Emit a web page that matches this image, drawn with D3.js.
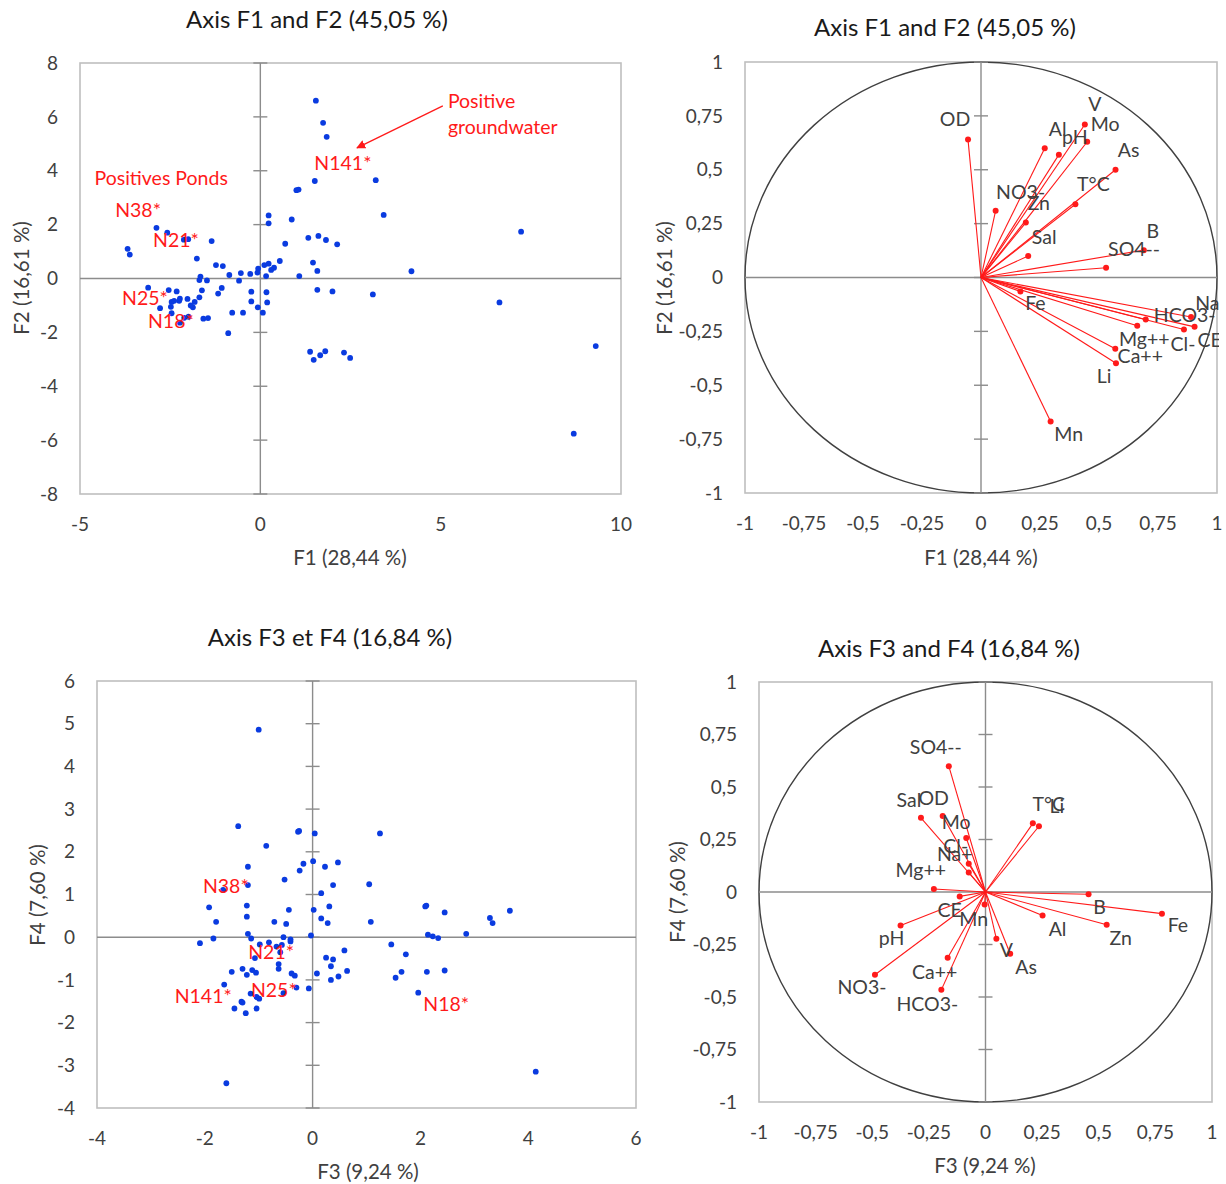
<!DOCTYPE html>
<html>
<head>
<meta charset="utf-8">
<script src="https://cdnjs.cloudflare.com/ajax/libs/d3/7.8.5/d3.min.js"></script>
<style>
  html, body { margin: 0; padding: 0; background: #fff; }
  svg { display: block; font-family: Lato, "Open Sans", sans-serif; }
</style>
</head>
<body>
<svg id="chart" width="1226" height="1184"></svg>
<script>
// ---------------- DATA ----------------
// Observations on F1/F2
const obsF1 = [1.54,1.74,1.84,1.51,1.00,1.06,0.23,0.23,0.87,0.69,1.33,1.61,1.82,2.13,1.46,1.58,1.08,1.58,2.00,
  0.54,0.38,0.30,0.23,0.11,-0.06,-0.08,0.16,-0.28,-0.54,-0.86,-0.59,-1.04,-1.23,-1.35,-1.76,-1.66,-1.69,-1.48,
  -1.62,-1.69,-1.07,-1.17,-1.82,-1.87,-1.93,-2.02,-1.99,-2.11,-2.23,-1.58,-1.45,-2.23,-2.32,-2.54,-3.11,-2.78,
  -2.46,-2.39,-2.48,-2.46,-2.25,-3.68,-3.62,-2.88,-2.58,-2.12,-2.00,-0.25,0.17,-0.25,0.19,-0.07,0.07,-0.48,-0.78,
  -0.89,1.38,1.48,1.66,1.80,2.32,2.49,3.20,3.42,7.23,4.19,3.12,6.63,9.30,8.69];
const obsF2 = [6.60,5.78,5.26,3.62,3.28,3.30,2.34,2.05,2.19,1.29,1.51,1.58,1.43,1.27,0.59,0.28,0.09,-0.42,-0.48,
  0.65,0.40,0.32,0.55,0.50,0.37,0.22,0.09,0.17,0.20,0.13,-0.08,0.46,0.50,1.39,0.74,0.07,-0.06,-0.07,
  -0.44,-0.70,-0.35,-0.56,-0.87,-1.07,-1.00,-0.76,-1.42,-1.46,-1.64,-1.49,-1.47,-0.75,-0.48,-0.43,-0.34,-1.10,
  -0.87,-0.83,-1.05,-1.29,-0.83,1.10,0.89,1.88,1.70,1.44,1.46,-0.49,-0.51,-0.85,-0.89,-1.07,-1.27,-1.27,-1.27,
  -2.03,-2.72,-3.02,-2.85,-2.70,-2.75,-2.95,3.65,2.36,1.74,0.27,-0.59,-0.89,-2.51,-5.76];
// Observations on F3/F4
const obsF3 = [-1.00,-1.38,-0.86,-0.27,-0.25,0.04,1.25,-1.20,0.01,-0.17,-0.24,0.23,0.47,-0.52,-1.20,-1.66,0.16,
  0.38,1.05,-1.92,-1.22,-1.22,-0.44,0.02,0.31,0.16,0.28,1.08,-1.79,-0.71,-0.49,-1.20,-1.14,-1.84,-2.09,-0.54,
  -0.41,-0.41,-0.03,-0.81,-0.98,-0.67,-0.57,-0.60,-1.07,-0.63,-0.63,-1.50,-1.30,-1.22,-1.12,-1.05,-0.39,-0.33,
  0.08,0.25,0.38,0.34,0.59,0.64,0.48,0.34,-0.07,-0.30,-0.54,-1.64,-1.15,-1.04,-0.99,-1.32,-1.30,-1.45,-1.24,
  -1.04,-1.60,2.09,2.11,2.45,3.29,3.34,3.66,2.14,2.23,2.33,2.85,1.46,1.73,1.65,1.54,2.12,2.45,1.96,4.14];
const obsF4 = [4.86,2.60,2.14,2.47,2.49,2.43,2.43,1.65,1.78,1.72,1.56,1.65,1.75,1.35,1.22,1.11,1.03,
  1.22,1.24,0.70,0.74,0.48,0.64,0.64,0.72,0.44,0.33,0.36,0.36,0.36,0.31,0.08,-0.03,-0.03,-0.14,0.00,
  -0.10,-0.05,0.04,-0.12,-0.17,-0.22,-0.18,-0.35,-0.49,-0.63,-0.74,-0.81,-0.74,-0.88,-0.77,-0.83,-0.85,-0.90,
  -0.85,-0.48,-0.52,-0.68,-0.31,-0.79,-0.92,-1.00,-1.20,-1.18,-1.31,-1.11,-1.32,-1.40,-1.44,-1.51,-1.53,-1.67,-1.78,
  -1.67,-3.42,0.72,0.74,0.58,0.45,0.33,0.62,0.06,0.02,-0.02,0.08,-0.17,-0.40,-0.81,-0.95,-0.81,-0.78,-1.30,-3.15];

// Variable loadings F1/F2
const vars12 = ["OD","V","Mo","Al","pH","As","T°C","NO3-","Zn","Sal","SO4--","B",
                "Fe","Mn","Li","Ca++","Mg++","HCO3-","Na+","Cl-","CE"];
const loadF1 = [-0.055,0.44,0.45,0.27,0.33,0.57,0.40,0.062,0.19,0.20,0.53,0.69,
                0.167,0.295,0.572,0.569,0.662,0.698,0.89,0.86,0.905];
const loadF2 = [0.64,0.71,0.63,0.60,0.57,0.50,0.34,0.31,0.255,0.10,0.045,0.127,
                -0.065,-0.668,-0.398,-0.331,-0.224,-0.195,-0.183,-0.241,-0.229];
// Variable loadings F3/F4
const vars34 = ["SO4--","Sal","OD","Mo","Cl-","Na+","Mg++","CE","Mn","pH","NO3-",
                "Ca++","HCO3-","V","As","Al","B","Zn","Fe","T°C","Li"];
const loadF3 = [-0.162,-0.285,-0.189,-0.085,-0.074,-0.074,-0.228,-0.114,-0.004,-0.375,-0.488,
                -0.167,-0.195,0.048,0.109,0.252,0.455,0.535,0.779,0.209,0.236];
const loadF4 = [0.599,0.353,0.362,0.257,0.134,0.093,0.014,-0.021,-0.059,-0.159,-0.394,
                -0.313,-0.466,-0.223,-0.294,-0.112,-0.011,-0.156,-0.103,0.327,0.313];

// Annotations
const notes12 = ["Positives Ponds","N38*","N21*","N25*","N18*","N141*"];
const notes12X = [-2.75,-3.39,-2.34,-3.20,-2.48,2.29];
const notes12Y = [3.74,2.55,1.43,-0.72,-1.58,4.29];
const notes34 = ["N38*","N21*","N25*","N141*","N18*"];
const notes34X = [-1.61,-0.77,-0.72,-2.03,2.48];
const notes34Y = [1.19,-0.34,-1.23,-1.37,-1.58];

// Tick values
const ticksF1 = [-5,0,5,10];
const ticksF2 = [-8,-6,-4,-2,0,2,4,6,8];
const ticksF3 = [-4,-2,0,2,4,6];
const ticksF4 = [-4,-3,-2,-1,0,1,2,3,4,5,6];
const ticksCircle = [-1,-0.75,-0.5,-0.25,0,0.25,0.5,0.75,1];

// ---------------- DRAW ----------------
const svg = d3.select("#chart");
const fmt = d => String(d).replace(".", ",");
const RED = "#ff1a1a", BLUE = "#0a3be0";

const panels = [
  {box:[80,621,63,494], xd:[-5,10], yd:[-8,8], xt:ticksF1, yt:ticksF2,
   title:"Axis F1 and F2  (45,05 %)", tpos:[317,20], xlab:"F1 (28,44 %)", xlpos:[350,558], ylab:"F2 (16,61 %)", ylpos:[22,278]},
  {box:[745,1217,62,493], xd:[-1,1], yd:[-1,1], xt:ticksCircle, yt:ticksCircle, circle:true,
   title:"Axis F1 and F2  (45,05 %)", tpos:[945,28], xlab:"F1 (28,44 %)", xlpos:[981,558], ylab:"F2 (16,61 %)", ylpos:[665,278]},
  {box:[97,636,681,1108], xd:[-4,6], yd:[-4,6], xt:ticksF3, yt:ticksF4,
   title:"Axis F3 et F4 (16,84 %)", tpos:[330,638], xlab:"F3 (9,24 %)", xlpos:[368,1172], ylab:"F4 (7,60 %)", ylpos:[38,895]},
  {box:[759,1212,682,1102], xd:[-1,1], yd:[-1,1], xt:ticksCircle, yt:ticksCircle, circle:true,
   title:"Axis F3 and F4 (16,84 %)", tpos:[949,649], xlab:"F3 (9,24 %)", xlpos:[985,1166], ylab:"F4 (7,60 %)", ylpos:[678,892]}
];

panels.forEach((p, i) => {
  const [l, r, t, b] = p.box;
  p.x = d3.scaleLinear().domain(p.xd).range([l, r]);
  p.y = d3.scaleLinear().domain(p.yd).range([b, t]);
  const g = svg.append("g");
  p.g = g;
  g.append("rect").attr("x", l).attr("y", t).attr("width", r - l).attr("height", b - t)
    .attr("fill", "none").attr("stroke", "#bfbfbf").attr("stroke-width", 1.6);
  if (p.circle) {
    g.append("ellipse").attr("cx", p.x(0)).attr("cy", p.y(0))
      .attr("rx", p.x(1) - p.x(0)).attr("ry", p.y(0) - p.y(1))
      .attr("fill", "none").attr("stroke", "#404040").attr("stroke-width", 1.4);
  }
  g.append("line").attr("x1", l).attr("x2", r).attr("y1", p.y(0)).attr("y2", p.y(0))
    .attr("stroke", "#8c8c8c").attr("stroke-width", 1.4);
  g.append("line").attr("x1", p.x(0)).attr("x2", p.x(0)).attr("y1", t).attr("y2", b)
    .attr("stroke", "#8c8c8c").attr("stroke-width", 1.4);
  g.selectAll(".ytm").data(p.yt).enter().append("line")
    .attr("x1", p.x(0) - 7).attr("x2", p.x(0) + 7)
    .attr("y1", d => p.y(d)).attr("y2", d => p.y(d))
    .attr("stroke", "#8c8c8c").attr("stroke-width", 1.4);
  g.selectAll(".xtl").data(p.xt).enter().append("text")
    .attr("x", d => p.x(d)).attr("y", b + 30).attr("dy", "0.35em")
    .attr("text-anchor", "middle").attr("font-size", 19).attr("fill", "#404040").text(fmt);
  g.selectAll(".ytl").data(p.yt).enter().append("text")
    .attr("x", l - 22).attr("y", d => p.y(d)).attr("dy", "0.35em")
    .attr("text-anchor", "end").attr("font-size", 19).attr("fill", "#404040").text(fmt);
  g.append("text").attr("x", p.tpos[0]).attr("y", p.tpos[1]).attr("dy", "0.35em")
    .attr("text-anchor", "middle").attr("font-size", 24).attr("fill", "#1a1a1a").text(p.title);
  g.append("text").attr("x", p.xlpos[0]).attr("y", p.xlpos[1]).attr("dy", "0.35em")
    .attr("text-anchor", "middle").attr("font-size", 20.5).attr("fill", "#404040").text(p.xlab);
  g.append("text").attr("transform", `translate(${p.ylpos[0]},${p.ylpos[1]}) rotate(-90)`)
    .attr("dy", "0.35em").attr("text-anchor", "middle").attr("font-size", 20.5).attr("fill", "#404040").text(p.ylab);
});

// ---- Panel 1: scatter F1/F2
(function () {
  const p = panels[0];
  const pts = obsF1.map((v, i) => [v, obsF2[i]]);
  p.g.selectAll(".pt").data(pts).enter().append("circle")
    .attr("cx", d => p.x(d[0])).attr("cy", d => p.y(d[1])).attr("r", 2.9).attr("fill", BLUE);
  p.g.selectAll(".note").data(notes12).enter().append("text")
    .attr("x", (d, i) => p.x(notes12X[i])).attr("y", (d, i) => p.y(notes12Y[i])).attr("dy", "0.35em")
    .attr("text-anchor", "middle").attr("font-size", 19.5).attr("fill", RED).text(d => d);
  const defs = svg.append("defs");
  defs.append("marker").attr("id", "arr").attr("viewBox", "0 0 10 10").attr("refX", 9).attr("refY", 5)
    .attr("markerWidth", 7).attr("markerHeight", 7).attr("orient", "auto")
    .append("path").attr("d", "M0,0 L10,5 L0,10 Z").attr("fill", RED);
  p.g.append("line").attr("x1", p.x(5.06)).attr("y1", p.y(6.41)).attr("x2", p.x(2.68)).attr("y2", p.y(4.85))
    .attr("stroke", RED).attr("stroke-width", 1.3).attr("marker-end", "url(#arr)");
  p.g.append("text").attr("x", p.x(5.2)).attr("y", p.y(6.6)).attr("dy", "0.35em")
    .attr("font-size", 19.5).attr("fill", RED).text("Positive");
  p.g.append("text").attr("x", p.x(5.2)).attr("y", p.y(5.63)).attr("dy", "0.35em")
    .attr("font-size", 19.5).attr("fill", RED).text("groundwater");
})();

// ---- Panel 3: scatter F3/F4
(function () {
  const p = panels[2];
  const pts = obsF3.map((v, i) => [v, obsF4[i]]);
  p.g.selectAll(".pt").data(pts).enter().append("circle")
    .attr("cx", d => p.x(d[0])).attr("cy", d => p.y(d[1])).attr("r", 2.9).attr("fill", BLUE);
  p.g.selectAll(".note").data(notes34).enter().append("text")
    .attr("x", (d, i) => p.x(notes34X[i])).attr("y", (d, i) => p.y(notes34Y[i])).attr("dy", "0.35em")
    .attr("text-anchor", "middle").attr("font-size", 19.5).attr("fill", RED).text(d => d);
})();

// ---- Correlation circles
const labelOff12 = {"OD":[-13,-20],"V":[10,-20],"Mo":[18,-18],"Al":[13,-19],"pH":[16,-17],"As":[13,-20],
  "T°C":[18,-20],"NO3-":[25,-19],"Zn":[13,-19],"Sal":[16,-19],"SO4--":[28,-19],"B":[9,-19],
  "Fe":[15,12],"Mn":[18,13],"Li":[-12,13],"Ca++":[25,7],"Mg++":[7,13],"HCO3-":[39,-4],"Na+":[22,-14],
  "Cl-":[-1,15],"CE":[15,13]};
const labelOff34 = {"SO4--":[-13,-19],"Sal":[-12,-18],"OD":[-9,-18],"Mo":[-10,-16],"Cl-":[-13,-18],
  "Na+":[-14,-18],"Mg++":[-13,-19],"CE":[-10,14],"Mn":[-11,15],"pH":[-9,13],"NO3-":[-13,12],
  "Ca++":[-13,14],"HCO3-":[-14,14],"V":[10,11],"As":[16,13],"Al":[15,14],"B":[11,13],"Zn":[14,13],
  "Fe":[16,12],"T°C":[16,-19],"Li":[18,-20]};

svg.select("defs").append("clipPath").attr("id", "clip2")
  .append("rect").attr("x", 640).attr("y", 40).attr("width", 579).attr("height", 480);

function drawLoadings(p, names, lx, ly, offs, clip) {
  const data = names.map((n, i) => ({n, x: lx[i], y: ly[i]}));
  const g = p.g.append("g");
  g.selectAll(".vec").data(data).enter().append("line")
    .attr("x1", p.x(0)).attr("y1", p.y(0)).attr("x2", d => p.x(d.x)).attr("y2", d => p.y(d.y))
    .attr("stroke", RED).attr("stroke-width", 1.1);
  g.selectAll(".dot").data(data).enter().append("circle")
    .attr("cx", d => p.x(d.x)).attr("cy", d => p.y(d.y)).attr("r", 3).attr("fill", RED);
  const lg = g.append("g");
  if (clip) lg.attr("clip-path", "url(#" + clip + ")");
  lg.selectAll(".lab").data(data).enter().append("text")
    .attr("x", d => p.x(d.x) + offs[d.n][0]).attr("y", d => p.y(d.y) + offs[d.n][1]).attr("dy", "0.35em")
    .attr("text-anchor", "middle").attr("font-size", 19.5).attr("fill", "#404040").text(d => d.n);
}
drawLoadings(panels[1], vars12, loadF1, loadF2, labelOff12, "clip2");
drawLoadings(panels[3], vars34, loadF3, loadF4, labelOff34, null);
</script>
</body>
</html>
